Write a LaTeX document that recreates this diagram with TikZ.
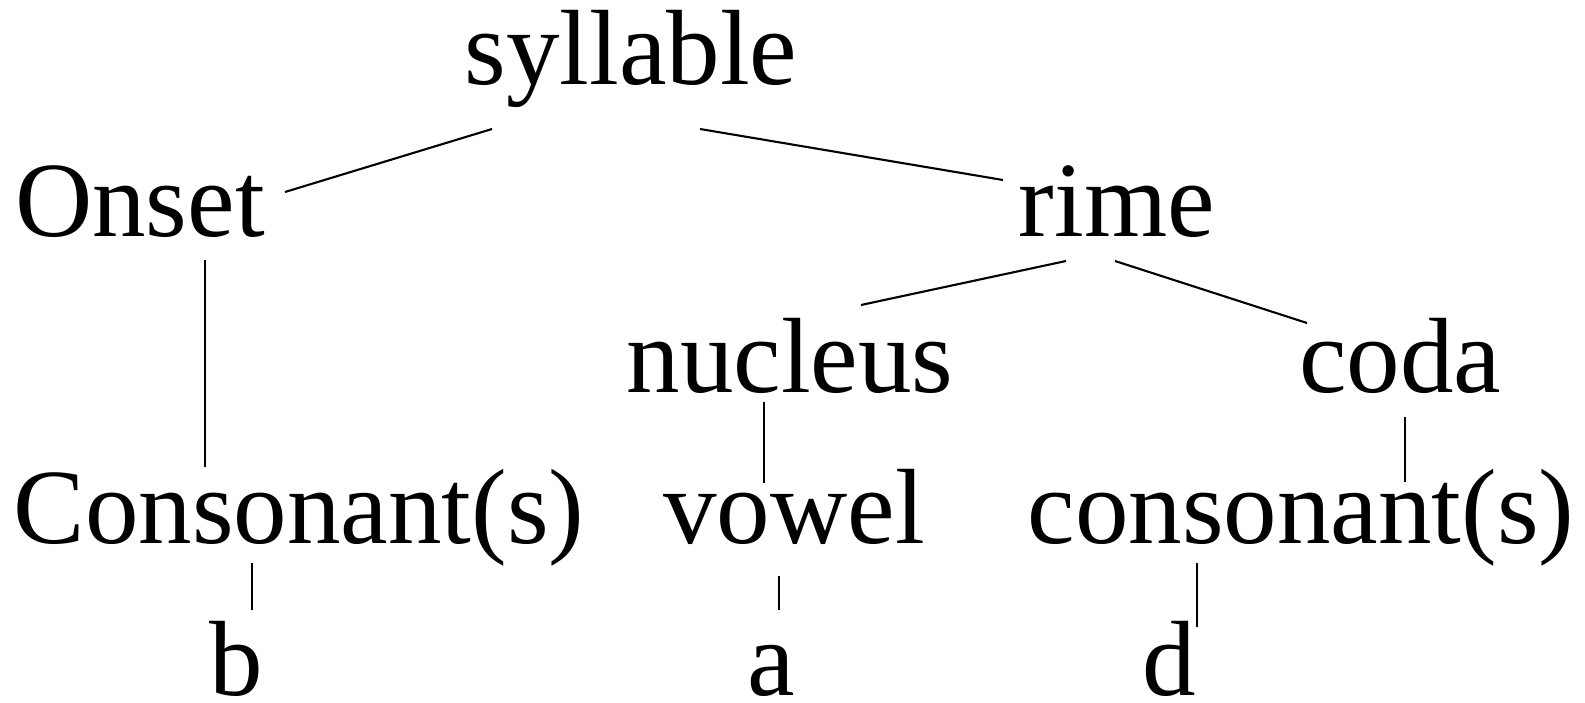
\documentclass[tikz,border=0pt]{standalone}
\usepackage{fontspec}
\setmainfont{Liberation Serif}
\begin{document}
\begin{tikzpicture}[x=1pt,y=-1pt,
  word/.style={anchor=base,inner sep=0pt,font=\fontsize{107}{112}\selectfont},
  branch/.style={line width=2.1pt,black}]
\useasboundingbox (0,0) rectangle (1585,703);
% words
\node[word] (syl) at (631,85) {syllable};
\node[word] (ons) at (140,237) {Onset};
\node[word] (rime) at (1117,237) {rime};
\node[word] (nuc) at (790,392) {nucleus};
\node[word] (coda) at (1400,392) {coda};
\node[word] (cons1) at (299,543) {Consonant(s)};
\node[word] (vow) at (794,543) {vowel};
\node[word] (cons2) at (1301,543) {consonant(s)};
\node[word] (b) at (236,695) {b};
\node[word] (a) at (771,695) {a};
\node[word] (d) at (1169,695) {d};
% connector end points
\coordinate (sylL) at (492,129);
\coordinate (onsR) at (285,192);
\coordinate (sylR) at (700,129);
\coordinate (rimeL) at (1003,180);
\coordinate (onsB) at (205,260);
\coordinate (cons1T) at (205,467);
\coordinate (rimeBL) at (1066,261);
\coordinate (nucT) at (861,305);
\coordinate (rimeBR) at (1115,261);
\coordinate (codaT) at (1307,323);
\coordinate (nucB) at (764,402);
\coordinate (vowT) at (764,483);
\coordinate (codaB) at (1405,417);
\coordinate (cons2T) at (1405,482);
\coordinate (cons1B) at (252,563);
\coordinate (bT) at (252,610);
\coordinate (vowB) at (779,576);
\coordinate (aT) at (779,610);
\coordinate (cons2B) at (1197,563);
\coordinate (dT) at (1197,627);
% connectors
\draw[branch] (sylL) -- (onsR);
\draw[branch] (sylR) -- (rimeL);
\draw[branch] (onsB) -- (cons1T);
\draw[branch] (rimeBL) -- (nucT);
\draw[branch] (rimeBR) -- (codaT);
\draw[branch] (nucB) -- (vowT);
\draw[branch] (codaB) -- (cons2T);
\draw[branch] (cons1B) -- (bT);
\draw[branch] (vowB) -- (aT);
\draw[branch] (cons2B) -- (dT);
\end{tikzpicture}
\end{document}
